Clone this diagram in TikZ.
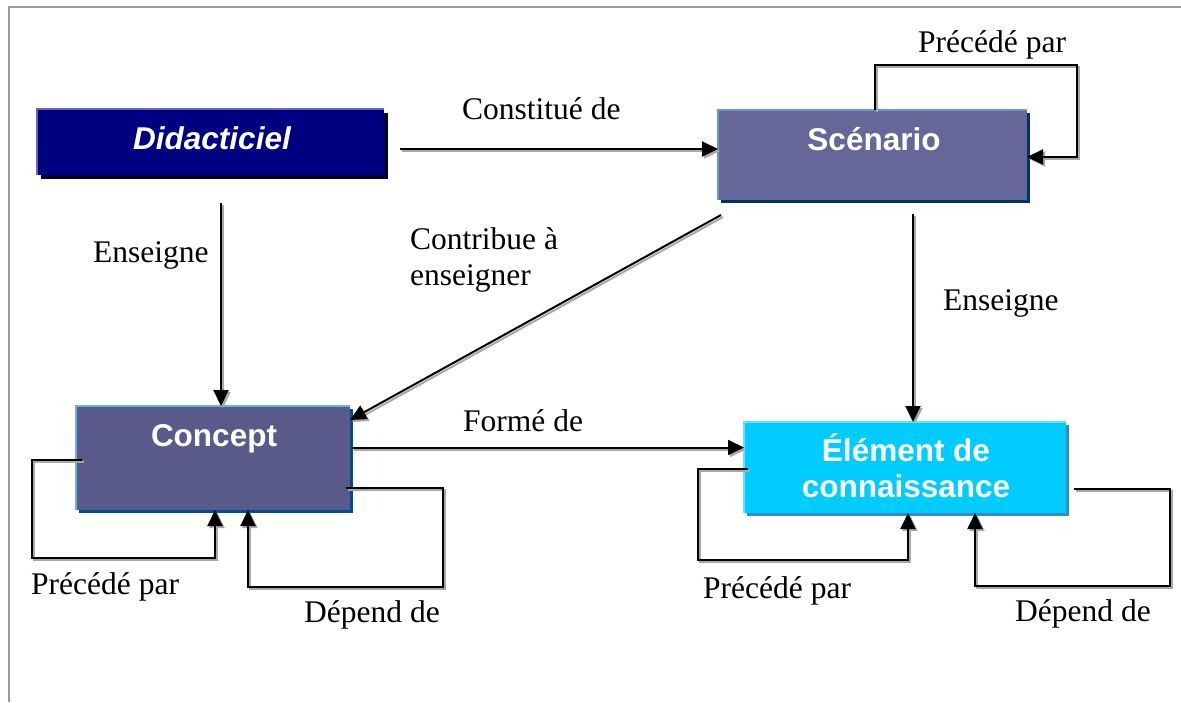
\documentclass[tikz,border=0pt]{standalone}
\usepackage{fontspec}
\setmainfont{Liberation Serif}
\setsansfont{Liberation Sans}
\usetikzlibrary{arrows.meta,shadows}

\definecolor{didfill}{HTML}{000080}
\definecolor{didshade}{HTML}{000033}
\definecolor{didedge}{HTML}{6666B3}
\definecolor{scnfill}{HTML}{666699}
\definecolor{scnshade}{HTML}{003366}
\definecolor{scnedge}{HTML}{6699CC}
\definecolor{confill}{HTML}{5A5A8A}
\definecolor{conshade}{HTML}{004C8C}
\definecolor{conedge}{HTML}{66B3E6}
\definecolor{elmfill}{HTML}{00CCFF}
\definecolor{elmshade}{HTML}{2E8FC8}
\definecolor{elmedge}{HTML}{66E0FF}
\definecolor{framegray}{HTML}{9A9A9A}
\definecolor{connshade}{HTML}{A8A8A8}

\begin{document}
\begin{tikzpicture}[x=1pt,y=-1pt,
  box/.style={draw=none, inner sep=0pt, outer sep=0pt, anchor=north west},
  boxtext/.style={font=\sffamily\bfseries\fontsize{31.5}{35.5}\selectfont, text=white, anchor=base, inner sep=0pt, align=center},
  lbl/.style={font=\fontsize{31.5}{36}\selectfont, anchor=base west, inner sep=0pt, align=left},
  tip/.style={-{Triangle[length=16pt,width=15pt]}},
  conn/.style={line width=2pt, line join=miter, tip,
    preaction={draw=connshade, line width=2pt, tip,
      transform canvas={shift={(2pt,-2pt)}}}},
  edge hl/.style={line width=2pt}
]
\useasboundingbox (0,0) rectangle (1181,702);

% page frame (top and left rules)
\draw[framegray, line width=2pt] (9,702) -- (9,7) -- (1181,7);

% boxes
\node[box, fill=didfill, minimum width=347pt, minimum height=66pt,
  general shadow={fill=didshade, shadow xshift=4pt, shadow yshift=-4pt}] (did) at (37,109) {};
\node[box, fill=scnfill, minimum width=309pt, minimum height=90pt,
  general shadow={fill=scnshade, shadow xshift=3pt, shadow yshift=-3pt}] (scn) at (718,110) {};
\node[box, fill=confill, minimum width=274pt, minimum height=104pt,
  general shadow={fill=conshade, shadow xshift=3pt, shadow yshift=-3pt}] (con) at (76,406) {};
\node[box, fill=elmfill, minimum width=322pt, minimum height=91pt,
  general shadow={fill=elmshade, shadow xshift=3pt, shadow yshift=-3pt}] (elm) at (744,422) {};

% light top/left edges
\draw[edge hl, didedge] (did.south west) -- (did.north west) -- (did.north east);
\draw[edge hl, scnedge] (scn.south west) -- (scn.north west) -- (scn.north east);
\draw[edge hl, conedge] (con.south west) -- (con.north west) -- (con.north east);
\draw[edge hl, elmedge] (elm.south west) -- (elm.north west) -- (elm.north east);

% box titles
\node[boxtext, font=\sffamily\bfseries\itshape\fontsize{31.5}{35.5}\selectfont] (didt) at (212,149) {Didacticiel};
\node[boxtext] (scnt) at (874,150.5) {Scénario};
\node[boxtext] (cont) at (214,446.5) {Concept};
\node[boxtext] (elmt) at (906,497) {Élément de\\connaissance};

% connector start points
\coordinate (s1) at (400,149);
\coordinate (s2) at (221,203);
\coordinate (s3) at (913,214);
\coordinate (s4) at (721,215);
\coordinate (s5) at (352,447.5);
\coordinate (s6) at (1074,489);

% connectors
\draw[conn] (s1) -- (scn.west |- s1);
\draw[conn] (s2) -- (s2 |- con.north);
\draw[conn] (s3) -- (s3 |- elm.north);
\draw[conn] (s4) -- ([yshift=-14pt]con.north east);
\draw[conn] (s5) -- (elm.west |- s5);

% self loops
\draw[conn] ([xshift=157pt]scn.north west) -- (875,65) -- (1077,65) -- (1077,157) -- (scn.east |- 0,157);
\draw[conn] ([xshift=6pt]con.west |- 0,460) -- (32,460) -- (32,558) -- (215,558) -- (215,0 |- con.south);
\draw[conn] ([xshift=-4pt]con.east |- 0,488) -- (443,488) -- (443,587) -- (248,587) -- (248,0 |- con.south);
\draw[conn] ([xshift=4pt]elm.west |- 0,469) -- (698,469) -- (698,560) -- (908,560) -- (908,0 |- elm.south);
\draw[conn] (s6) -- (1170,489) -- (1170,586) -- (975,586) -- (975,0 |- elm.south);

% relation labels
\node[lbl] (l1) at (462,119) {Constitué de};
\node[lbl] (l2) at (93,262.5) {Enseigne};
\node[lbl] (l3) at (943,310) {Enseigne};
\node[lbl] (l4) at (410,285) {Contribue à\\enseigner};
\node[lbl] (l5) at (463,431.5) {Formé de};
\node[lbl] (l6) at (918,52) {Précédé par};
\node[lbl] (l7) at (31,594) {Précédé par};
\node[lbl] (l8) at (304,622) {Dépend de};
\node[lbl] (l9) at (703,598) {Précédé par};
\node[lbl] (l10) at (1015,621.5) {Dépend de};
\end{tikzpicture}
\end{document}
